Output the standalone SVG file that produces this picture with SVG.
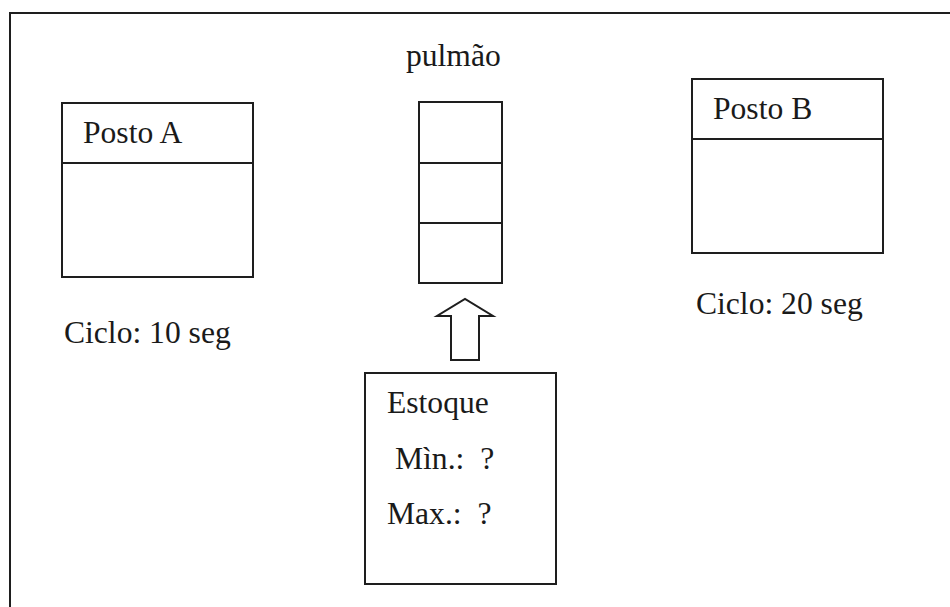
<svg xmlns="http://www.w3.org/2000/svg" width="950" height="607" viewBox="0 0 950 607">
  <style>
    .box { fill: none; stroke: #1e1e1e; stroke-width: 2; }
    .ln { stroke: #1e1e1e; stroke-width: 2; fill: none; }
    .t { font-family: "Liberation Serif", "Times New Roman", serif; font-size: 31.6px; fill: #1a1a1a; }
  </style>
  <rect width="950" height="607" fill="#ffffff"/>

  <!-- page frame (top and left edges) -->
  <g id="frame">
    <path class="ln" d="M10,607 V13 H950"/>
  </g>

  <g id="posto-a">
    <rect class="box" x="62" y="103" width="191" height="174"/>
    <line class="ln" x1="62" y1="163" x2="253" y2="163"/>
    <text class="t" x="83" y="143">Posto A</text>
    <text class="t" x="64" y="343">Ciclo: 10 seg</text>
  </g>

  <g id="pulmao">
    <text class="t" x="406" y="66">pulmão</text>
    <rect class="box" x="419" y="102" width="83" height="181"/>
    <line class="ln" x1="419" y1="163" x2="502" y2="163"/>
    <line class="ln" x1="419" y1="223" x2="502" y2="223"/>
  </g>

  <g id="posto-b">
    <rect class="box" x="692" y="79" width="191" height="174"/>
    <line class="ln" x1="692" y1="139" x2="883" y2="139"/>
    <text class="t" x="713" y="119">Posto B</text>
    <text class="t" x="696" y="314">Ciclo: 20 seg</text>
  </g>

  <g id="estoque">
    <rect class="box" x="365" y="373" width="191" height="211"/>
    <text class="t" x="387" y="413">Estoque</text>
    <text class="t" x="395" y="469" xml:space="preserve">Mìn.:  ?</text>
    <text class="t" x="387" y="524" xml:space="preserve">Max.:  ?</text>
  </g>

  <!-- hollow block arrow from stock up to the buffer -->
  <g id="connectors">
    <path class="ln" stroke-linejoin="miter" d="M451,360 V316 H437 L465,299 L493,316 H479 V360 Z"/>
  </g>
</svg>
